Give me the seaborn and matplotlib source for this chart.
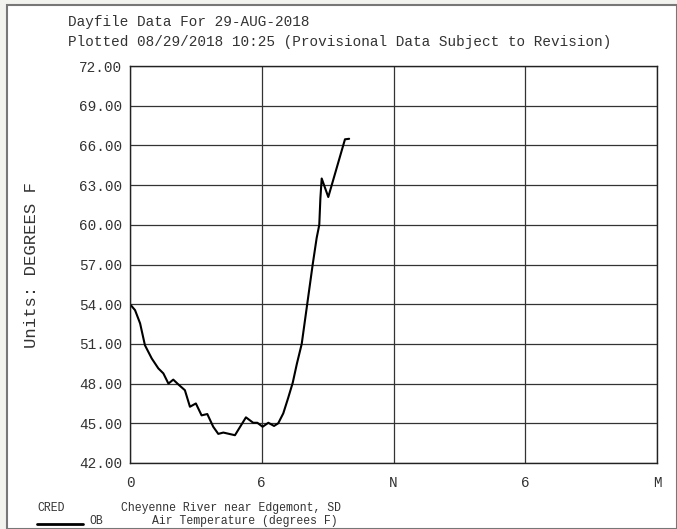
import matplotlib
matplotlib.use("Agg")
import matplotlib.pyplot as plt
import seaborn as sns
import pandas as pd
from matplotlib.patches import Rectangle
from matplotlib.lines import Line2D

# Data (hours since midnight, degrees F)
hours = [0.0, 0.23, 0.46, 0.68, 0.99, 1.29, 1.52, 1.75, 1.97, 2.2, 2.5, 2.73,
         3.0, 3.26, 3.52, 3.79, 4.02, 4.25, 4.78, 5.28, 5.61, 5.8, 6.04, 6.3,
         6.56, 6.75, 6.98, 7.2, 7.41, 7.6, 7.82, 8.07, 8.32, 8.5, 8.62, 8.67,
         8.73, 9.03, 9.79, 9.98]
temps = [54.0, 53.55, 52.55, 50.9, 49.9, 49.15, 48.77, 48.0, 48.3, 47.94, 47.5, 46.25,
         46.5, 45.6, 45.7, 44.74, 44.2, 44.3, 44.1, 45.45, 45.04, 45.04, 44.74, 45.04,
         44.8, 45.0, 45.75, 46.9, 48.06, 49.5, 51.0, 54.0, 57.0, 59.0, 60.0, 62.0,
         63.5, 62.1, 66.46, 66.5]

x_ticks = [0, 6, 12, 18, 24]
x_tick_labels = ["0", "6", "N", "6", "M"]
y_ticks = [42, 45, 48, 51, 54, 57, 60, 63, 66, 69, 72]

title1 = "Dayfile Data For 29-AUG-2018"
title2 = "Plotted 08/29/2018 10:25 (Provisional Data Subject to Revision)"
ylabel = "Units: DEGREES F"
station_id = "CRED"
station_name = "Cheyenne River near Edgemont, SD"
param_code = "OB"
param_name = "Air Temperature (degrees F)"

df = pd.DataFrame({"hour": hours, "temp": temps})

sns.set_theme(style="white")
plt.rcParams["font.family"] = ["Liberation Mono", "DejaVu Sans Mono"]

W, H = 677, 529
fig = plt.figure(figsize=(W / 100, H / 100), dpi=100)

# window frame from screenshot
fig.patches.append(Rectangle((0, 0), 1, 1, transform=fig.transFigure,
                             facecolor="#f2f2ee", edgecolor="none", zorder=-10))
fig.patches.append(Rectangle((7 / W, 0), 1 - 7 / W, 1 - 5 / H, transform=fig.transFigure,
                             facecolor="white", edgecolor="#777777", linewidth=1.5, zorder=-9))

ax = fig.add_axes([130 / W, 1 - 463 / H, (657 - 130) / W, (463 - 66) / H])
sns.lineplot(data=df, x="hour", y="temp", ax=ax, color="black", linewidth=1.5)

ax.set_xlim(0, 24)
ax.set_ylim(42, 72)
ax.set_xticks(x_ticks)
ax.set_xticklabels(x_tick_labels)
ax.set_yticks(y_ticks)
ax.set_yticklabels([f"{v:.2f}" for v in y_ticks])
ax.grid(True, color="#333333", linewidth=0.9)
for s in ax.spines.values():
    s.set_color("#222222")
    s.set_linewidth(1.0)
ax.tick_params(axis="both", direction="inout", length=7, width=1.0, color="#222222",
               labelsize=10.4, labelcolor="#333333", pad=2)
ax.tick_params(axis="x", pad=6)
ax.set_xlabel("")
ax.set_ylabel(ylabel, fontsize=12.4, color="#333333", labelpad=29)

fig.text(68 / W, 1 - 22 / H, title1, fontsize=10.4, color="#333333", va="center", ha="left")
fig.text(68 / W, 1 - 42 / H, title2, fontsize=10.4, color="#333333", va="center", ha="left")

fig.text(37 / W, 1 - 508 / H, station_id, fontsize=8.3, color="#333333", va="center", ha="left")
fig.text(121 / W, 1 - 508 / H, station_name, fontsize=8.3, color="#333333", va="center", ha="left")
fig.text(89 / W, 1 - 521 / H, param_code, fontsize=8.3, color="#333333", va="center", ha="left")
fig.text(152 / W, 1 - 521 / H, param_name, fontsize=8.3, color="#333333", va="center", ha="left")
fig.lines.append(Line2D([37 / W, 83 / W], [1 - 524 / H, 1 - 524 / H], transform=fig.transFigure,
                        color="black", linewidth=2))

fig.savefig("out.png", dpi=100)
